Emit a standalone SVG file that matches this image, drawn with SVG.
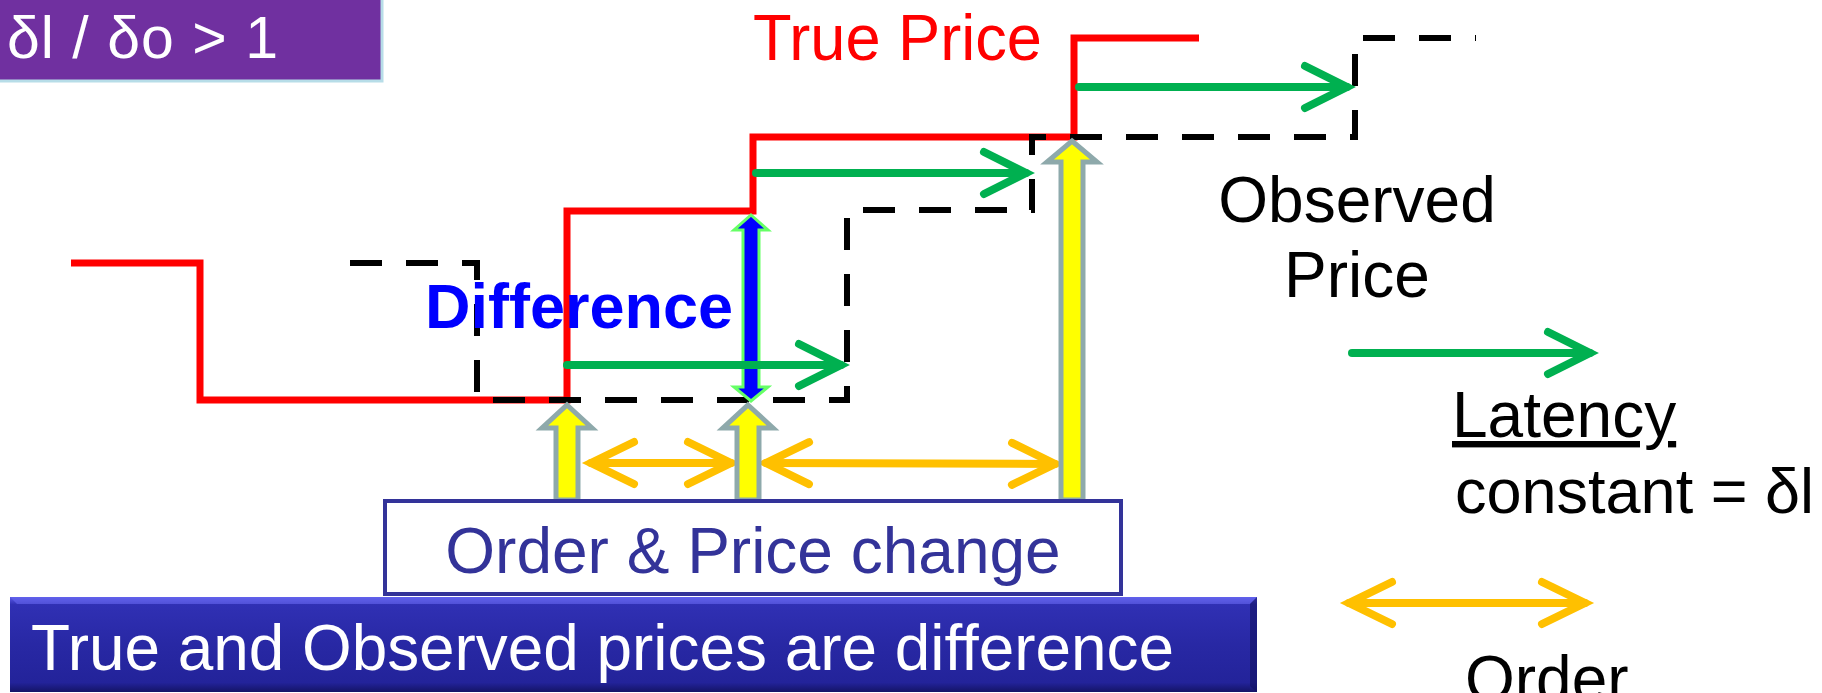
<svg xmlns="http://www.w3.org/2000/svg" width="1822" height="693" viewBox="0 0 1822 693">
<defs>
<style>
text{font-family:"Liberation Sans",Arial,sans-serif;}
.lbl{font-size:64px;}
.red{fill:none;stroke:#FF0000;stroke-width:7;stroke-linejoin:miter;}
.obs{fill:none;stroke:#000;stroke-width:6;stroke-dasharray:32 24;}
.lat{fill:none;stroke:#00B050;stroke-width:8;stroke-linecap:round;}
.ord{fill:none;stroke:#FFC000;stroke-width:8;stroke-linecap:round;}
.blk{fill:#FFFF00;stroke:#8EA9AB;stroke-width:5;stroke-linejoin:miter;}
.dif{fill:#0000FF;stroke:#66FF66;stroke-width:3;}
</style>
<marker id="mg" markerUnits="userSpaceOnUse" orient="auto-start-reverse" markerWidth="60" markerHeight="60" viewBox="-50 -30 60 60" refX="0" refY="0" overflow="visible">
<path d="M-42,-21 L0,0 L-42,21" fill="none" stroke="#00B050" stroke-width="8" stroke-linecap="round" stroke-linejoin="miter"/>
</marker>
<marker id="mo" markerUnits="userSpaceOnUse" orient="auto-start-reverse" markerWidth="60" markerHeight="60" viewBox="-50 -30 60 60" refX="0" refY="0" overflow="visible">
<path d="M-43,-21 L0,0 L-43,21" fill="none" stroke="#FFC000" stroke-width="8" stroke-linecap="round" stroke-linejoin="miter"/>
</marker>
<linearGradient id="bg" x1="0" y1="0" x2="0" y2="1">
<stop offset="0" stop-color="#5A5AE6"/>
<stop offset="0.08" stop-color="#3030B4"/>
<stop offset="0.5" stop-color="#2828A4"/>
<stop offset="0.9" stop-color="#23239A"/>
<stop offset="1" stop-color="#141466"/>
</linearGradient>
</defs>
<rect width="1822" height="693" fill="#FFFFFF"/>

<g id="ratio-badge">
<rect x="-2" y="-2" width="384" height="83" fill="#7030A0" stroke="#B7DDE8" stroke-width="3"/>
<text x="7" y="58" font-size="59" fill="#FFFFFF" textLength="271" lengthAdjust="spacing">δl / δo &gt; 1</text>
</g>

<g id="true-price">
<path class="red" d="M71,263 H200 V400 H567 V211 H753 V137 H1074 V38 H1199"/>
<text class="lbl" x="753" y="60" fill="#FF0000" textLength="289" lengthAdjust="spacingAndGlyphs">True Price</text>
</g>

<g id="observed-price">
<path class="obs" d="M350,263 H477 V400 H847 V210 H1032 V137 H1355 V38 H1476"/>
<text class="lbl" x="1357" y="222" fill="#000" text-anchor="middle">Observed</text>
<text class="lbl" x="1357" y="297" fill="#000" text-anchor="middle">Price</text>
</g>

<g id="difference">
<text x="425" y="328" font-size="63" font-weight="bold" fill="#0000FF">Difference</text>
<polygon class="dif" points="751,215 768,230 759,230 759,387 768,387 751,401 734,387 743,387 743,230 734,230"/>
</g>

<g id="connectors">
<line class="lat" x1="567" y1="365" x2="841" y2="365" marker-end="url(#mg)"/>
<line class="lat" x1="756" y1="173" x2="1026" y2="173" marker-end="url(#mg)"/>
<line class="lat" x1="1079" y1="87" x2="1347" y2="87" marker-end="url(#mg)"/>
<line class="ord" x1="591" y1="463" x2="731" y2="463" marker-start="url(#mo)" marker-end="url(#mo)"/>
<line class="ord" x1="766" y1="463" x2="1055" y2="464" marker-start="url(#mo)" marker-end="url(#mo)"/>
</g>

<g id="order-events">
<polygon class="blk" points="567,405 592,428 578,428 578,500 556,500 556,428 542,428"/>
<polygon class="blk" points="748,405 773,428 759,428 759,500 737,500 737,428 723,428"/>
<polygon class="blk" points="1072,141 1097,162 1083,162 1083,500 1061,500 1061,162 1047,162"/>
</g>

<g id="order-price-change">
<rect x="385" y="501" width="736" height="93" fill="#FFFFFF" stroke="#333399" stroke-width="4"/>
<text class="lbl" x="753" y="573" fill="#333399" text-anchor="middle">Order &amp; Price change</text>
</g>

<g id="summary-banner">
<rect x="10" y="597" width="1247" height="95" fill="url(#bg)"/>
<polygon points="10,597 1257,597 1250,604 17,604" fill="#6666EE" opacity="0.6"/>
<polygon points="1257,597 1257,692 1250,686 1250,604" fill="#101060" opacity="0.6"/>
<text x="31" y="670" font-size="64" fill="#FFFFFF" textLength="1143" lengthAdjust="spacingAndGlyphs">True and Observed prices are difference</text>
</g>

<g id="legend-latency">
<line class="lat" x1="1352" y1="353" x2="1590" y2="353" marker-end="url(#mg)"/>
<text class="lbl" x="1452" y="437" fill="#000" text-decoration="underline">Latency</text>
<text x="1455" y="513" font-size="63" fill="#000">constant = δl</text>
</g>

<g id="legend-order">
<line class="ord" x1="1349" y1="603" x2="1585" y2="603" marker-start="url(#mo)" marker-end="url(#mo)"/>
<text class="lbl" x="1465" y="701" fill="#000">Order</text>
</g>
</svg>
